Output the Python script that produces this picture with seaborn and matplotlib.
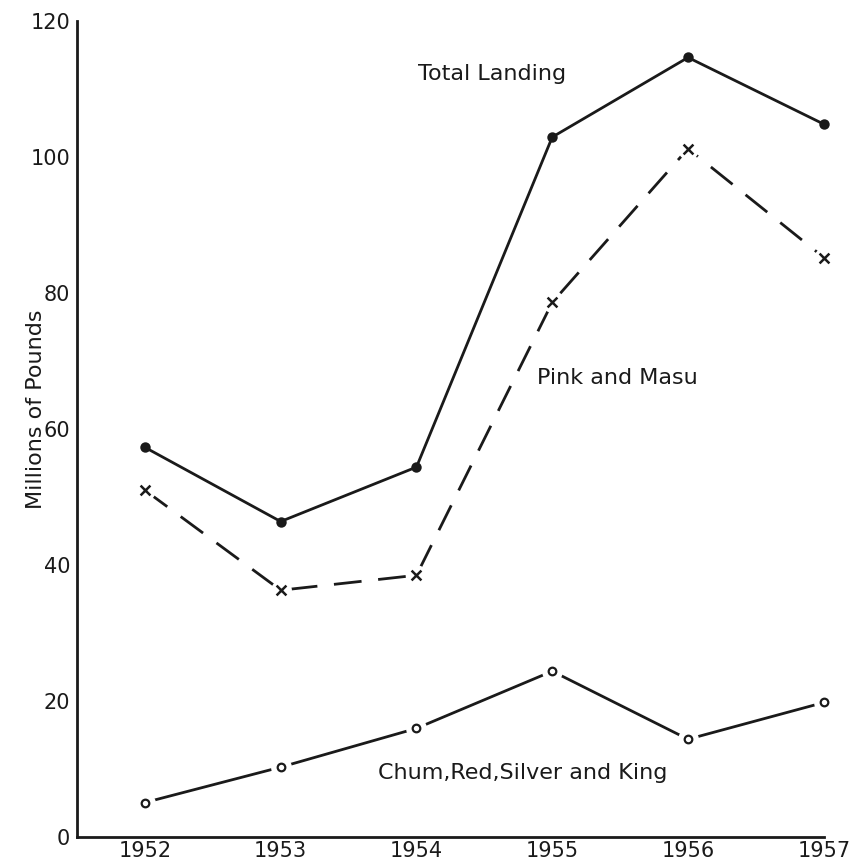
import matplotlib
matplotlib.use("Agg")
import matplotlib.pyplot as plt
import seaborn as sns
import pandas as pd

# values (millions of pounds)
years = [1952, 1953, 1954, 1955, 1956, 1957]
total_landing = [57.3, 46.4, 54.4, 102.9, 114.6, 104.8]
pink_masu = [51.0, 36.3, 38.5, 78.6, 101.2, 85.2]
chum_red_silver_king = [5.1, 10.3, 16.0, 24.4, 14.4, 19.8]

y_ticks = [0, 20, 40, 60, 80, 100, 120]

df = pd.DataFrame({
    "year": years * 3,
    "pounds": total_landing + pink_masu + chum_red_silver_king,
    "series": ["Total Landing"] * 6 + ["Pink and Masu"] * 6
              + ["Chum,Red,Silver and King"] * 6,
})

sns.set_style("white")
plt.rcParams["font.family"] = ["DejaVu Sans"]

fig = plt.figure(figsize=(8.5, 8.64), dpi=100)
ax = fig.add_axes([0.0906, 0.031, 0.8786, 0.945])

ink = "#1a1a1a"
lw = 2.0

total = df[df.series == "Total Landing"]
pink = df[df.series == "Pink and Masu"]
chum = df[df.series == "Chum,Red,Silver and King"]

sns.lineplot(data=total, x="year", y="pounds", ax=ax, color=ink, lw=lw,
             marker="o", markersize=7.5, markeredgewidth=0, errorbar=None,
             clip_on=False)

# big white markers on the line itself leave a gap round each point
halo = dict(marker="o", markersize=15, markerfacecolor="white",
            markeredgecolor="white", markeredgewidth=0, errorbar=None,
            clip_on=False)
sns.lineplot(data=pink, x="year", y="pounds", ax=ax, color=ink, lw=lw,
             dashes=False, **halo)
ax.lines[-1].set_linestyle((0, (10, 6)))
sns.lineplot(data=chum, x="year", y="pounds", ax=ax, color=ink, lw=lw,
             **halo)

sns.scatterplot(data=pink, x="year", y="pounds", ax=ax, marker="x", s=50,
                color=ink, linewidth=1.8, legend=False, zorder=5,
                clip_on=False)
sns.scatterplot(data=chum, x="year", y="pounds", ax=ax, marker="o", s=30,
                facecolor="white", edgecolor=ink, linewidth=1.6, legend=False,
                zorder=5, clip_on=False)

ax.text(1954.01, 112.2, "Total Landing", fontsize=16, va="center", ha="left",
        color=ink)
ax.text(1954.89, 67.5, "Pink and Masu", fontsize=16, va="center", ha="left",
        color=ink)
ax.text(1953.72, 9.5, "Chum,Red,Silver and King", fontsize=16, va="center",
        ha="left", color=ink)

ax.set_xlim(1951.5, 1957)
ax.set_ylim(0, 120)
ax.set_xticks(years)
ax.set_xticklabels([str(y) for y in years])
ax.set_yticks(y_ticks)
ax.set_xlabel("")
ax.set_ylabel("Millions of Pounds", fontsize=16, color=ink)
ax.yaxis.set_label_coords(-0.042, 0.524)

for side in ["top", "right"]:
    ax.spines[side].set_visible(False)
for side in ["left", "bottom"]:
    ax.spines[side].set_color(ink)
    ax.spines[side].set_linewidth(2.0)

ax.tick_params(axis="x", direction="in", length=13, width=2, colors=ink,
               labelsize=15, pad=3)
ax.tick_params(axis="y", direction="in", length=9, width=2, colors=ink,
               labelsize=15, pad=5)
ax.grid(False)

fig.savefig("out.png", dpi=100)
plt.close(fig)
